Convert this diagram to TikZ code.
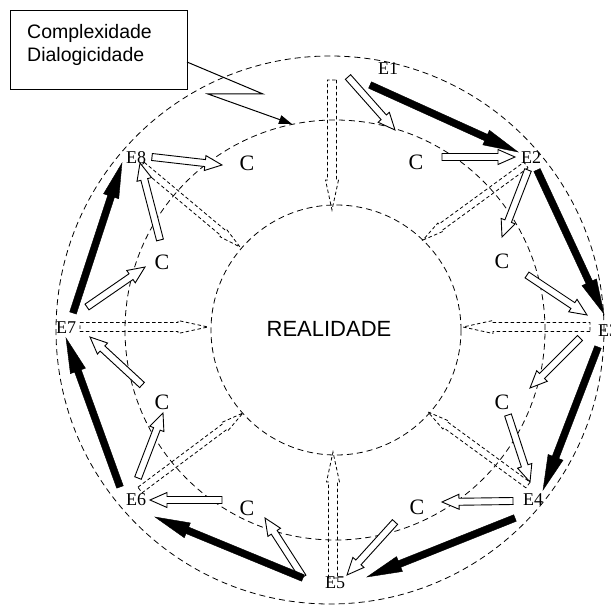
\documentclass[tikz,border=0pt]{standalone}
\usepackage{fontspec}
\setmainfont{Liberation Serif}
\newfontfamily\sansf{Liberation Sans}
\usetikzlibrary{calc,arrows.meta}
% block arrow: #1 style, #2 from, #3 to, #4 half body, #5 half head, #6 head length
\newcommand\barrow[6]{%
  \coordinate (tmpm) at ($(#3)!#6!(#2)$);
  \draw[#1] ($(#2)!#4!90:(#3)$) -- ($(tmpm)!#4!90:(#3)$) -- ($(tmpm)!#5!90:(#3)$) -- (#3)
    -- ($(tmpm)!#5!-90:(#3)$) -- ($(tmpm)!#4!-90:(#3)$) -- ($(#2)!#4!-90:(#3)$) -- cycle;}
\begin{document}
\begin{tikzpicture}[x=1pt,y=-1pt,
  ring/.style={draw=black, line width=0.8pt, dash pattern=on 6pt off 4pt},
  blk/.style={fill=black, draw=black, line width=0.4pt, line join=miter},
  hol/.style={fill=white, draw=black, line width=0.9pt, line join=miter},
  dsh/.style={draw=black, line width=0.8pt, dash pattern=on 3.5pt off 2.5pt},
  elab/.style={inner sep=0pt, font=\fontsize{18}{18}\selectfont},
  clab/.style={inner sep=0pt, font=\fontsize{22}{22}\selectfont}]
\useasboundingbox (0,0) rectangle (611,607);
\clip (0,0) rectangle (611,607);
\fill[white] (0,0) rectangle (611,607);
% rings
\draw[ring] (330,330) circle[radius=274pt];
\draw[ring] (335,330) circle[radius=210pt];
\draw[ring] (336,330) circle[radius=125pt];
\node[inner sep=0pt, font=\sansf\fontsize{22}{22}\selectfont] (R) at (329,329) {REALIDADE};
% labels
\node[elab] (E1) at (388,69) {E1};
\node[elab] (E2) at (531,158) {E2};
\node[elab, anchor=west] (E3) at (598,331) {E3};
\node[elab] (E4) at (533,500) {E4};
\node[elab] (E5) at (335,583) {E5};
\node[elab] (E6) at (136,500) {E6};
\node[elab] (E7) at (66,328) {E7};
\node[elab] (E8) at (136,158) {E8};
\node[clab] (Ca) at (247,163) {C};
\node[clab] (Cb) at (416,162) {C};
\node[clab] (Cc) at (502,261) {C};
\node[clab] (Cd) at (502,402) {C};
\node[clab] (Ce) at (417,507) {C};
\node[clab] (Cf) at (247,508) {C};
\node[clab] (Cg) at (162,402) {C};
\node[clab] (Ch) at (162,262) {C};
% dashed hollow arrows towards REALIDADE
\coordinate (d1s) at (332,80);  \coordinate (d1e) at (332,210);
\coordinate (d2s) at (526,165); \coordinate (d2e) at (423,240);
\coordinate (d3s) at (590,327); \coordinate (d3e) at (463,327);
\coordinate (d4s) at (528,485); \coordinate (d4e) at (428,412);
\coordinate (d5s) at (333,578); \coordinate (d5e) at (333,452);
\coordinate (d6s) at (140,490); \coordinate (d6e) at (243,413);
\coordinate (d7s) at (80,327);  \coordinate (d7e) at (208,327);
\coordinate (d8s) at (142,165); \coordinate (d8e) at (240,247);
\barrow{dsh}{d1s}{d1e}{4.5pt}{6.5pt}{30pt}
\barrow{dsh}{d3s}{d3e}{4.5pt}{6.5pt}{30pt}
\barrow{dsh}{d5s}{d5e}{4.5pt}{6.5pt}{30pt}
\barrow{dsh}{d7s}{d7e}{4.5pt}{6.5pt}{30pt}
\barrow{dsh}{d2s}{d2e}{3.5pt}{5pt}{22pt}
\barrow{dsh}{d4s}{d4e}{3.5pt}{5pt}{22pt}
\barrow{dsh}{d6s}{d6e}{3.5pt}{5pt}{22pt}
\barrow{dsh}{d8s}{d8e}{3.5pt}{5pt}{22pt}
% hollow arrows
\coordinate (h1s) at (348,77);  \coordinate (h1e) at (395,130);
\coordinate (h2s) at (442,157); \coordinate (h2e) at (515,157);
\coordinate (h3s) at (528,170); \coordinate (h3e) at (502,237);
\coordinate (h4s) at (527,275); \coordinate (h4e) at (587,315);
\coordinate (h5s) at (580,338); \coordinate (h5e) at (530,388);
\coordinate (h6s) at (508,415); \coordinate (h6e) at (530,482);
\coordinate (h7s) at (513,501); \coordinate (h7e) at (442,502);
\coordinate (h8s) at (395,522); \coordinate (h8e) at (347,575);
\coordinate (h9s) at (303,577); \coordinate (h9e) at (265,518);
\coordinate (h10s) at (222,500); \coordinate (h10e) at (150,500);
\coordinate (h11s) at (138,478); \coordinate (h11e) at (163,413);
\coordinate (h12s) at (142,385); \coordinate (h12e) at (90,337);
\coordinate (h13s) at (87,307);  \coordinate (h13e) at (145,267);
\coordinate (h14s) at (160,240); \coordinate (h14e) at (140,163);
\coordinate (h15s) at (152,157); \coordinate (h15e) at (222,165);
\foreach \i in {1,...,15}{\barrow{hol}{h\i s}{h\i e}{3.5pt}{7.5pt}{17pt}}
% black arrows
\coordinate (k1s) at (370,85);  \coordinate (k1e) at (518,152);
\coordinate (k2s) at (537,170); \coordinate (k2e) at (604,314);
\coordinate (k3s) at (598,347); \coordinate (k3e) at (543,490);
\coordinate (k4s) at (515,518); \coordinate (k4e) at (367,577);
\coordinate (k5s) at (303,578); \coordinate (k5e) at (155,517);
\coordinate (k6s) at (120,487); \coordinate (k6e) at (66,338);
\coordinate (k7s) at (73,313);  \coordinate (k7e) at (122,163);
\foreach \i in {1,...,7}{\barrow{blk}{k\i s}{k\i e}{3.5pt}{8pt}{35pt}}
% callout
\node[draw=black, line width=1pt, minimum width=177pt, minimum height=79pt, anchor=north west, inner sep=0pt] (box) at (10,10) {};
\node[anchor=north west, align=left, inner sep=0pt, font=\sansf\fontsize{19.5}{23}\selectfont] (boxtext) at (27,24) {Complexidade\\Dialogicidade};
\coordinate (z0) at (187,62);
\coordinate (z1) at (263,94);
\coordinate (z2) at (208,94);
\coordinate (z3) at (292,124);
\draw[line width=1pt, -{Triangle[length=13pt,width=9pt]}] (z0) -- (z1) -- (z2) -- (z3);
\end{tikzpicture}
\end{document}
